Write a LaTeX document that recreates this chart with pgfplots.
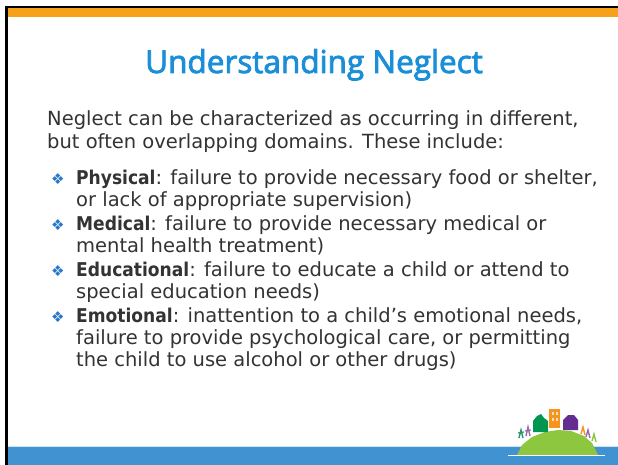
\documentclass[border=0pt]{standalone}
\usepackage{pgfplots}
\pgfplotsset{compat=1.18}
\usepackage{fontspec}
\setmainfont{DejaVu Sans}
\newfontfamily\titlefont[FakeBold=2.6]{Open Sans}
\newfontfamily\symfont{DejaVu Sans}
\newfontfamily\boldfont{DejaVu Sans Condensed}
\definecolor{titleblue}{RGB}{27,142,216}
\definecolor{barblue}{RGB}{64,146,208}
\definecolor{barorange}{RGB}{247,161,26}
\definecolor{txtgray}{RGB}{51,51,51}
\definecolor{bulletblue}{RGB}{40,120,200}
\definecolor{hillgreen}{RGB}{141,198,63}
\definecolor{housegreen}{RGB}{0,150,80}
\definecolor{purp}{RGB}{102,45,145}
\definecolor{orng}{RGB}{247,148,29}
\newcommand{\bul}{{\symfont\fontsize{15bp}{15bp}\selectfont\textcolor{bulletblue}{❖}}}
\newcommand{\bw}[1]{{\boldfont\bfseries\fontsize{19bp}{20bp}\selectfont #1}}
\begin{document}
\begin{tikzpicture}
\begin{axis}[
  scale only axis, width=618bp, height=465bp,
  xmin=0, xmax=618, ymin=0, ymax=465, y dir=reverse,
  hide axis, clip=false,
]
% frame and bars
\addplot[draw=none, fill=white] coordinates {(0,0) (618,0) (618,465) (0,465)} -- cycle;
\addplot[draw=none, fill=black] coordinates {(5,6.5) (618,6.5) (618,8.5) (5,8.5)} -- cycle;
\addplot[draw=none, fill=barorange] coordinates {(7,8.5) (618,8.5) (618,17) (7,17)} -- cycle;
\addplot[draw=none, fill=barblue!25] coordinates {(7,445.5) (618,445.5) (618,447) (7,447)} -- cycle;
\addplot[draw=none, fill=barblue] coordinates {(7,447) (618,447) (618,465) (7,465)} -- cycle;
\addplot[draw=none, fill=black] coordinates {(5,6.5) (7.5,6.5) (7.5,465) (5,465)} -- cycle;
% logo: hill
\addplot[draw=none, fill=hillgreen] coordinates {(517,455) (522,445) (532,437) (545,432) (558,430) (571,431) (584,436) (592,443) (598,455)} -- cycle;
\addplot[draw=none, fill=white] coordinates {(508,454.5) (605,454.5) (605,456) (508,456)} -- cycle;
% green house
\addplot[draw=none, fill=housegreen] coordinates {(533,432) (533,421) (537,416) (541,414) (544,418) (548,421) (548,432)} -- cycle;
% orange building
\addplot[draw=none, fill=orng] coordinates {(549,428) (549,409) (560,409) (560,428)} -- cycle;
\addplot[draw=none, fill=white!70!orng] coordinates {(552,412) (554,412) (554,415) (552,415)} -- cycle;
\addplot[draw=none, fill=white!70!orng] coordinates {(555.5,412) (557.5,412) (557.5,415) (555.5,415)} -- cycle;
\addplot[draw=none, fill=white!70!orng] coordinates {(552,418) (554,418) (554,421) (552,421)} -- cycle;
\addplot[draw=none, fill=white!70!orng] coordinates {(555.5,418) (557.5,418) (557.5,421) (555.5,421)} -- cycle;
% purple house
\addplot[draw=none, fill=purp] coordinates {(563,430) (563,420) (568,415) (574,415) (578,420) (578,430)} -- cycle;
% little figures
\addplot[teal!70!hillgreen, line width=1.4bp] coordinates {(519,438) (521,430) (523,438)};
\addplot[teal!70!hillgreen, line width=1.2bp] coordinates {(518,433) (524,432)};
\addplot[purp!70, line width=1.4bp] coordinates {(526,436) (528,427) (530,436)};
\addplot[purp!70, line width=1.2bp] coordinates {(525,431) (531,430)};
\addplot[orng, line width=1.4bp] coordinates {(581,434) (583,427) (585,435)};
\addplot[purp!70, line width=1.4bp] coordinates {(586,437) (588,430) (590,438)};
\addplot[hillgreen, line width=1.4bp] coordinates {(592,441) (594,434) (596,442)};
% title
\node[anchor=base, text=titleblue, font=\titlefont\fontsize{31.5bp}{32bp}\selectfont] at (axis cs:314,73) {Understanding Neglect};
% body
\begin{scope}[every node/.style={anchor=base west, text=txtgray, font=\fontsize{19.5bp}{22bp}\selectfont, inner sep=0pt}]
\node at (axis cs:47,125) {Neglect can be characterized as occurring in different,};
\node at (axis cs:47,148) {but often overlapping domains. These include:};
\node at (axis cs:51,184) {\bul};
\node at (axis cs:76,184) {\bw{Physical}: failure to provide necessary food or shelter,};
\node at (axis cs:76,206) {or lack of appropriate supervision)};
\node at (axis cs:51,230) {\bul};
\node at (axis cs:76,230) {\bw{Medical}: failure to provide necessary medical or};
\node at (axis cs:76,252) {mental health treatment)};
\node at (axis cs:51,276) {\bul};
\node at (axis cs:76,276) {\bw{Educational}: failure to educate a child or attend to};
\node at (axis cs:76,298) {special education needs)};
\node at (axis cs:51,322) {\bul};
\node at (axis cs:76,322) {\bw{Emotional}: inattention to a child’s emotional needs,};
\node at (axis cs:76,344) {failure to provide psychological care, or permitting};
\node at (axis cs:76,366) {the child to use alcohol or other drugs)};
\end{scope}
\end{axis}
\pgfresetboundingbox
\path (0,0) rectangle (618bp,465bp);
\end{tikzpicture}
\end{document}
